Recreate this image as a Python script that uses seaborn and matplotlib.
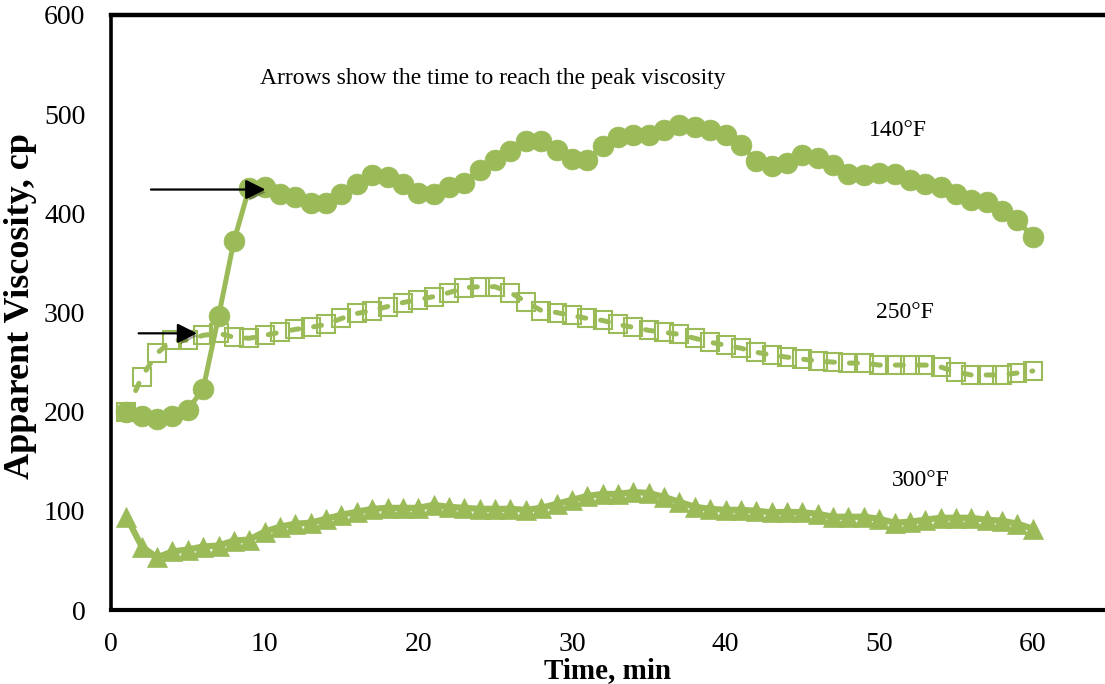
import matplotlib
matplotlib.use("Agg")
import matplotlib.pyplot as plt
import matplotlib.patheffects as pe
import seaborn as sns
import pandas as pd

time_min = [1, 2, 3, 4, 5, 6, 7, 8, 9, 10, 11, 12, 13, 14, 15, 16, 17, 18, 19, 20,
            21, 22, 23, 24, 25, 26, 27, 28, 29, 30, 31, 32, 33, 34, 35, 36, 37, 38, 39, 40,
            41, 42, 43, 44, 45, 46, 47, 48, 49, 50, 51, 52, 53, 54, 55, 56, 57, 58, 59, 60]

visc_140F = [200, 196, 193, 196, 202, 223, 296, 372, 426, 427,
             420, 416, 410, 410, 420, 430, 439, 437, 430, 421,
             419, 427, 431, 444, 454, 463, 473, 473, 464, 455,
             454, 468, 477, 479, 479, 484, 489, 487, 484, 479,
             469, 453, 448, 451, 459, 456, 449, 440, 439, 441,
             440, 434, 430, 427, 419, 413, 411, 402, 393, 376]

visc_250F = [200, 235, 259, 272, 272, 277, 279, 275, 274, 277,
             280, 283, 285, 288, 294, 299, 302, 306, 310, 313,
             316, 320, 325, 326, 326, 320, 311, 302, 300, 297,
             294, 292, 288, 285, 282, 280, 278, 274, 270, 267,
             264, 260, 257, 255, 253, 251, 250, 249, 249, 247,
             247, 247, 247, 245, 240, 237, 237, 237, 239, 241]

visc_300F = [94, 64, 53, 59, 61, 64, 65, 70, 71, 79,
             84, 87, 88, 92, 96, 99, 102, 103, 103, 103,
             106, 104, 103, 102, 102, 102, 101, 103, 107, 111,
             115, 117, 117, 119, 118, 114, 109, 104, 102, 101,
             101, 100, 98.5, 99, 98.5, 97, 94, 94, 94, 92,
             88, 89, 91, 93, 93, 93, 91, 90, 87, 82]

series_labels = ["140°F", "250°F", "300°F"]
label_pos = [(51.2, 484), (51.7, 300), (52.7, 131)]
note_text = "Arrows show the time to reach the peak viscosity"
arrows = [((2.6, 424), (10.05, 424)), ((1.8, 279), (5.6, 279))]

x_ticks = [0, 10, 20, 30, 40, 50, 60]
y_ticks = [0, 100, 200, 300, 400, 500, 600]

GREEN = "#9BBB59"

sns.set_style("white")
plt.rcParams["font.family"] = ["Liberation Serif", "DejaVu Serif"]
plt.rcParams["text.color"] = "black"
plt.rcParams["axes.labelcolor"] = "black"

fig = plt.figure(figsize=(11.05, 6.84), dpi=100)
ax = fig.add_axes([111 / 1105, 1 - 610 / 684, 1 - 111 / 1105, (610 - 15) / 684])

df = pd.DataFrame({"t": time_min, "v140": visc_140F, "v250": visc_250F, "v300": visc_300F})

sns.lineplot(data=df, x="t", y="v140", ax=ax, color=GREEN, linewidth=3.6,
             marker="o", markersize=15, markeredgecolor=GREEN, markeredgewidth=0.5,
             markerfacecolor=GREEN, clip_on=False)
sns.lineplot(data=df, x="t", y="v250", ax=ax, color=GREEN, linewidth=3.6,
             linestyle=(0, (1.6, 3.0)), dash_capstyle="round",
             marker="s", markersize=13, markeredgecolor=GREEN, markeredgewidth=1.5,
             markerfacecolor="none", clip_on=False)
sns.lineplot(data=df, x="t", y="v300", ax=ax, color=GREEN, linewidth=4.5,
             marker="^", markersize=15, markeredgecolor=GREEN, markeredgewidth=0.5,
             markerfacecolor=GREEN, clip_on=False)

ax.set_xlim(0, 64.7)
ax.set_ylim(0, 600)
ax.set_xticks(x_ticks)
ax.set_yticks(y_ticks)
ax.set_xticklabels([str(v) for v in x_ticks], fontsize=20)
ax.set_yticklabels([str(v) for v in y_ticks], fontsize=20)
ax.tick_params(axis="x", direction="in", length=5, width=1, color="#808080",
               labelcolor="black", pad=15.5)
ax.tick_params(axis="y", direction="in", length=5, width=1, color="#808080",
               labelcolor="black", pad=18.5)

ax.spines["right"].set_visible(False)
ax.spines["top"].set_linewidth(3.2)
ax.spines["left"].set_linewidth(2.6)
ax.spines["bottom"].set_linewidth(3.0)
for s in ["top", "left", "bottom"]:
    ax.spines[s].set_color("black")

ax.set_xlabel("Time, min", fontsize=21, fontweight="bold")
ax.set_ylabel("Apparent Viscosity, cp", fontsize=26, fontweight="bold")
ax.xaxis.set_label_coords(0.5, -0.079)
ax.yaxis.set_label_coords(-0.0745, 0.51)

for lab, (lx, ly) in zip(series_labels, label_pos):
    ax.text(lx, ly, lab, fontsize=17, ha="center", va="center")
ax.text(9.7, 536, note_text, fontsize=17, ha="left", va="center")

for (tail, tip) in arrows:
    ax.annotate("", xy=tip, xytext=tail,
                arrowprops=dict(arrowstyle="-|>,head_length=0.6,head_width=0.3",
                                color="black", lw=1.6, shrinkA=0, shrinkB=0,
                                mutation_scale=20,
                                path_effects=[pe.SimplePatchShadow(offset=(2, -2), alpha=0.3),
                                              pe.Normal()]))

fig.savefig("out.png", dpi=100)
